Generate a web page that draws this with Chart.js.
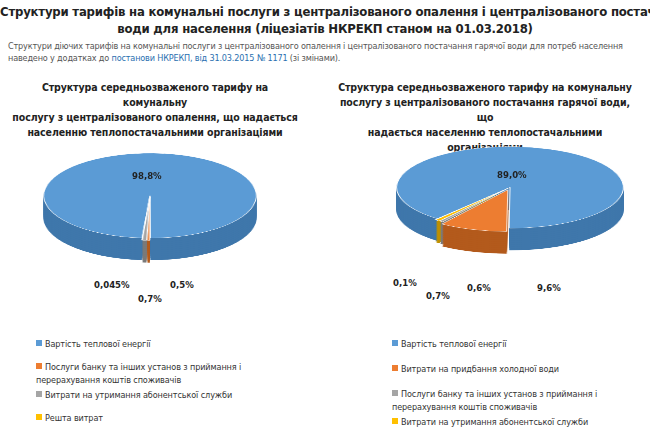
<!DOCTYPE html><html><head><meta charset="utf-8">
<script src="https://cdn.jsdelivr.net/npm/chart.js@4"></script>
<style>
body{margin:0;width:650px;height:427px;background:#fff;font-family:"Liberation Sans Narrow","DejaVu Sans Condensed",Arial,sans-serif;position:relative;overflow:hidden}
.a{position:absolute}
.t{left:0;width:650px;text-align:center;font-weight:bold;font-size:13px;color:#222;top:3px;line-height:17px;white-space:nowrap;letter-spacing:-0.2px}
.d{left:8px;width:640px;top:40px;font-size:9px;color:#555;line-height:12px;white-space:nowrap;letter-spacing:-0.15px}
.d span{color:#2a6fb0}
.st{font-weight:bold;font-size:10.5px;color:#222;text-align:center;line-height:15px;letter-spacing:-0.1px}
.pl{font-weight:bold;font-size:9.5px;color:#222}
.lg{font-size:9px;color:#333;line-height:13px;letter-spacing:-0.1px}
.lg i{display:inline-block;width:6px;height:6px;margin-right:3px;vertical-align:1px}
.pw{transform-origin:0 0}
</style></head><body>
<div class="a t">Структури тарифів на комунальні послуги з централізованого опалення і централізованого постачання гарячої<br>води для населення (ліцезіатів НКРЕКП станом на 01.03.2018)</div>
<div class="a d">Структури діючих тарифів на комунальні послуги з централізованого опалення і централізованого постачання гарячої води для потреб населення<br>наведено у додатках до <span>постанови НКРЕКП, від 31.03.2015 № 1171</span> (зі змінами).</div>
<div class="a st" style="left:10px;width:290px;top:80px">Структура середньозваженого тарифу на комунальну<br>послугу з централізованого опалення, що надається<br>населенню теплопостачальними організаціями</div>
<div class="a st" style="left:330px;width:310px;top:80px">Структура середньозваженого тарифу на комунальну<br>послугу з централізованого постачання гарячої води, що<br>надається населенню теплопостачальними<br>організаціями</div>
<div id="pies"></div>
<div class="a pl" style="left:132px;top:170px">98,8%</div>
<div class="a pl" style="left:94px;top:279px">0,045%</div>
<div class="a pl" style="left:138px;top:293px">0,7%</div>
<div class="a pl" style="left:170px;top:279px">0,5%</div>
<div class="a pl" style="left:497px;top:169px">89,0%</div>
<div class="a pl" style="left:393px;top:277px">0,1%</div>
<div class="a pl" style="left:426px;top:290px">0,7%</div>
<div class="a pl" style="left:467px;top:282px">0,6%</div>
<div class="a pl" style="left:537px;top:282px">9,6%</div>
<div id="lg1" class="a lg" style="left:36px;top:338px;width:260px"></div>
<div id="lg2" class="a lg" style="left:392px;top:338px;width:260px"></div>
<script>
const heatCats=["Вартість теплової енергії","Послуги банку та інших установ з приймання і перерахування коштів споживачів","Витрати на утримання абонентської служби","Решта витрат"];
const heatVals=[98.8,0.5,0.7,0.045];
const waterCats=["Вартість теплової енергії","Витрати на придбання холодної води","Послуги банку та інших установ з приймання і перерахування коштів споживачів","Витрати на утримання абонентської служби",""];
const waterVals=[89.0,9.6,0.6,0.7,0.1];
const top5=["#5b9bd5","#ed7d31","#a5a5a5","#ffc000","#70ad47"];
const side5=["#3f77ab","#b35a1c","#7a7a7a","#bf9000","#4f7f32"];
Chart.defaults.animation=false;
function pie(x,y,size,scale,depth,vals,rot,offs){
  const host=document.getElementById('pies');
  for(let k=depth;k>=0;k-=2){
    const w=document.createElement('div');w.className='a pw';
    w.style.cssText=`left:${x}px;top:${y+k}px;width:${size}px;height:${size}px;transform:scaleY(${scale})`;
    const c=document.createElement('canvas');w.appendChild(c);host.appendChild(w);
    new Chart(c,{type:'pie',data:{labels:vals.map((v,i)=>i),datasets:[{data:vals,backgroundColor:k?side5:top5,borderWidth:k?0:1,borderColor:'#fff',offset:offs}]},
      options:{responsive:false,maintainAspectRatio:false,rotation:rot,layout:{padding:14},plugins:{legend:{display:false},tooltip:{enabled:false}}}});
    c.style.width=size+'px';c.style.height=size+'px';
  }
}
pie(26,146,248,0.4,22,heatVals,-175.7,[0,14,14,14]);
pie(370,137,280,0.36,22,waterVals,-140,[0,28,8,8,8]);
function legend(id,cats,gaps){
  document.getElementById(id).innerHTML=cats.filter(c=>c).map((c,i)=>`<div style="margin-bottom:${gaps[i]}px"><i style="background:${top5[i]}"></i>${c}</div>`).join('');
}
legend('lg1',heatCats,[10,2,10,0]);
legend('lg2',waterCats,[12,12,2,0]);
</script></body></html>
